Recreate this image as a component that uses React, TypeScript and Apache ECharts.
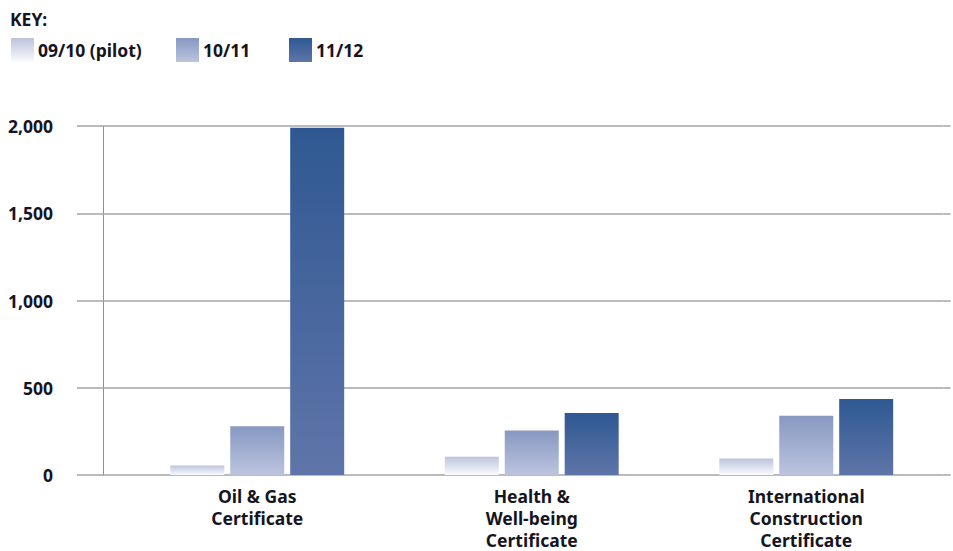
import React, { useEffect, useRef } from "react";
import * as echarts from "echarts";

// Certificate take-up by academic year
const categories = [
  "Oil & Gas\nCertificate",
  "Health &\nWell-being\nCertificate",
  "International\nConstruction\nCertificate",
];
const seriesNames = ["09/10 (pilot)", "10/11", "11/12"];
const pilot0910 = [55, 105, 95];
const year1011 = [280, 255, 340];
const year1112 = [1990, 355, 435];
const yTicks = [0, 500, 1000, 1500, 2000];

const FONT = "'Noto Sans', 'Open Sans', sans-serif";
const TEXT = "#15151f";
const SIZE = 17.5;
const GRID_GREY = "#a4a4a4";

const grad = (top: string, bottom: string) =>
  new echarts.graphic.LinearGradient(0, 0, 0, 1, [
    { offset: 0, color: top },
    { offset: 1, color: bottom },
  ]);

const fills = [
  ["#bcc3dc", "#fbfbfe"],
  ["#8798c2", "#bcc4de"],
  ["#2f5892", "#5f75a9"],
];

export default function App() {
  const ref = useRef<HTMLDivElement>(null);

  useEffect(() => {
    if (!ref.current) return;
    const chart = echarts.init(ref.current, null, { renderer: "svg" });
    const values = [pilot0910, year1011, year1112];
    const legendLeft = [11, 176, 289];
    const yMin = yTicks[0];
    const yMax = yTicks[yTicks.length - 1];
    const yStep = yTicks[1] - yTicks[0];

    chart.setOption({
      animation: false,
      backgroundColor: "#ffffff",
      graphic: [
        {
          type: "text",
          left: 10,
          top: 10,
          style: {
            text: "KEY:",
            font: `bold ${SIZE}px ${FONT}`,
            fill: TEXT,
          },
        },
      ],
      legend: seriesNames.map((name, i) => ({
        data: [name],
        left: legendLeft[i],
        top: 38,
        padding: 0,
        itemWidth: 23,
        itemHeight: 24,
        icon: "rect",
        selectedMode: false,
        textStyle: {
          fontFamily: FONT,
          fontWeight: "bold",
          fontSize: SIZE,
          color: TEXT,
          padding: [0, 0, 0, -1],
        },
      })),
      grid: {
        left: 120,
        right: 9.5,
        top: 126,
        bottom: 76,
        outerBoundsMode: "none",
      },
      xAxis: {
        type: "category",
        data: categories,
        axisLine: { show: false },
        axisTick: { show: false },
        axisLabel: {
          margin: 10,
          fontFamily: FONT,
          fontWeight: "bold",
          fontSize: SIZE,
          lineHeight: 22,
          color: TEXT,
          align: "center",
        },
      },
      yAxis: [
        {
          // value scale: gridlines, labels and the outward gridline stubs
          type: "value",
          position: "left",
          min: yMin,
          max: yMax,
          interval: yStep,
          axisLine: { show: false },
          axisTick: {
            show: true,
            inside: false,
            length: 43,
            lineStyle: { color: GRID_GREY, width: 1.5 },
          },
          splitLine: { lineStyle: { color: GRID_GREY, width: 1.5 } },
          axisLabel: {
            margin: 67,
            fontFamily: FONT,
            fontWeight: "bold",
            fontSize: SIZE,
            color: TEXT,
            formatter: (v: number) => v.toLocaleString("en-US"),
          },
        },
        {
          // vertical axis rule, set slightly left of the plot
          type: "value",
          position: "left",
          offset: 17,
          min: yMin,
          max: yMax,
          interval: yStep,
          axisLine: { show: true, lineStyle: { color: "#8e8e8e", width: 1 } },
          axisTick: { show: false },
          axisLabel: { show: false },
          splitLine: { show: false },
        },
        {
          // gridline stubs past the right edge of the plot
          type: "value",
          position: "right",
          min: yMin,
          max: yMax,
          interval: yStep,
          axisLine: { show: false },
          axisTick: {
            show: true,
            inside: false,
            length: 7,
            lineStyle: { color: GRID_GREY, width: 1.5 },
          },
          axisLabel: { show: false },
          splitLine: { show: false },
        },
      ],
      series: seriesNames.map((name, i) => ({
        name,
        type: "bar",
        yAxisIndex: 0,
        data: values[i],
        barWidth: 54,
        barGap: "11%",
        itemStyle: { color: grad(fills[i][0], fills[i][1]) },
      })),
    });

    return () => chart.dispose();
  }, []);

  return (
    <div
      ref={ref}
      style={{ position: "fixed", left: 0, top: 0, width: 953, height: 551 }}
    />
  );
}
